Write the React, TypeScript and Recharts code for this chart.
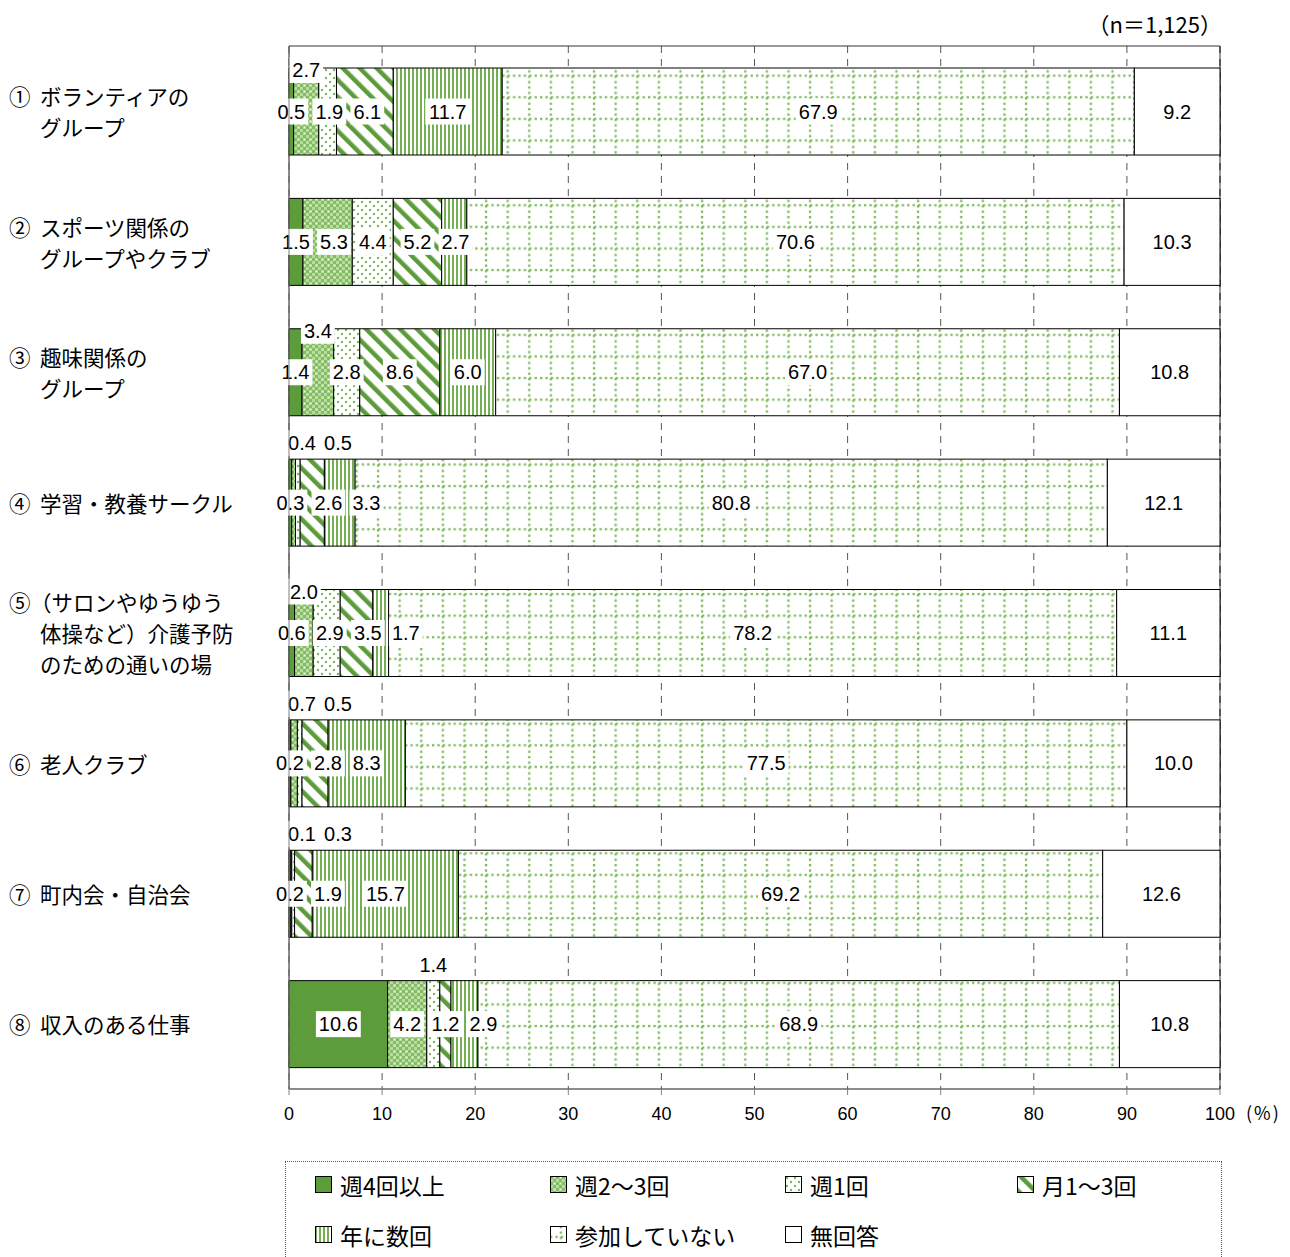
import { Bar, BarChart, CartesianGrid, ReferenceArea, XAxis, YAxis } from "recharts";

// ─── データ ───────────────────────────────────────────────────────────────────
const categories = [
  "①ボランティアの\nグループ",
  "②スポーツ関係の\nグループやクラブ",
  "③趣味関係の\nグループ",
  "④学習・教養サークル",
  "⑤（サロンやゆうゆう\n体操など）介護予防\nのための通いの場",
  "⑥老人クラブ",
  "⑦町内会・自治会",
  "⑧収入のある仕事",
];

const seriesNames = ["週4回以上", "週2～3回", "週1回", "月1～3回", "年に数回", "参加していない", "無回答"];

const weekly4 = [0.5, 1.5, 1.4, 0.3, 0.6, 0.2, 0.2, 10.6];
const weekly2to3 = [2.7, 5.3, 3.4, 0.4, 2.0, 0.7, 0.1, 4.2];
const weekly1 = [1.9, 4.4, 2.8, 0.5, 2.9, 0.5, 0.3, 1.4];
const monthly = [6.1, 5.2, 8.6, 2.6, 3.5, 2.8, 1.9, 1.2];
const yearly = [11.7, 2.7, 6.0, 3.3, 1.7, 8.3, 15.7, 2.9];
const notJoined = [67.9, 70.6, 67.0, 80.8, 78.2, 77.5, 69.2, 68.9];
const noAnswer = [9.2, 10.3, 10.8, 12.1, 11.1, 10.0, 12.6, 10.8];

const seriesValues = [weekly4, weekly2to3, weekly1, monthly, yearly, notJoined, noAnswer];
const xTicks = [0, 10, 20, 30, 40, 50, 60, 70, 80, 90, 100];

// 小さい値のラベルをバーの上に出す（系列番号）
const raisedLabels = [[1], [], [1], [1, 2], [1], [1, 2], [1, 2], [2]];
const raisedOutside = [false, false, false, true, false, true, true, true];

// ─── スタイル ─────────────────────────────────────────────────────────────────
const GREEN = "#5c9c3b";
const FILLS = [
  GREEN,
  "url(#pat-check)",
  "url(#pat-dot)",
  "url(#pat-diag)",
  "url(#pat-vert)",
  "url(#pat-grid)",
  "#ffffff",
];
const NUM_FONT = "'Liberation Sans', Arial, sans-serif";
const JP_FONT = "'Noto Sans CJK JP', 'Noto Sans', sans-serif";

const chartData = categories.map((name, i) => {
  const row: Record<string, string | number> = { name };
  seriesValues.forEach((arr, k) => {
    row[`s${k}`] = arr[i];
  });
  return row;
});

function Patterns() {
  return (
    <defs>
      <pattern id="pat-check" width="6" height="6" patternUnits="userSpaceOnUse">
        <rect width="6" height="6" fill="#b9dba2" />
        <rect x="0" y="0" width="3" height="3" fill="#86bb67" />
        <rect x="3" y="3" width="3" height="3" fill="#86bb67" />
        <rect x="4" y="1" width="1" height="1" fill="#ffffff" />
      </pattern>
      <pattern id="pat-dot" width="8" height="8" patternUnits="userSpaceOnUse">
        <rect width="8" height="8" fill="#ffffff" />
        <circle cx="2" cy="2" r="1.2" fill="#7db65e" />
        <circle cx="6" cy="6" r="1.2" fill="#7db65e" />
      </pattern>
      <pattern
        id="pat-diag"
        width="12"
        height="12"
        patternUnits="userSpaceOnUse"
        patternTransform="rotate(-45)"
      >
        <rect width="12" height="12" fill="#ffffff" />
        <rect x="0" y="0" width="4.5" height="12" fill={GREEN} />
      </pattern>
      <pattern id="pat-vert" width="4" height="4" patternUnits="userSpaceOnUse">
        <rect width="4" height="4" fill="#ffffff" />
        <rect x="0" y="0" width="2" height="4" fill="#74b053" />
      </pattern>
      <pattern id="pat-grid" width="21.6" height="21.6" patternUnits="userSpaceOnUse">
        <rect width="21.6" height="21.6" fill="#ffffff" />
        {[0, 5.4, 10.8, 16.2].map((d) => (
          <g key={d} fill="#7fbb5e">
            <rect x={d} y="9.7" width="2.3" height="2.3" />
            <rect x="9.7" y={d} width="2.3" height="2.3" />
          </g>
        ))}
      </pattern>
    </defs>
  );
}

// ─── Y軸ラベル ────────────────────────────────────────────────────────────────
function CategoryTick({ y, payload }: any) {
  const lines = String(payload.value).split("\n");
  const lh = 31;
  const top = Number(y) - ((lines.length - 1) * lh) / 2;
  return (
    <g fontFamily={JP_FONT} fontSize={21.5} fill="#000">
      {lines.map((line, i) => {
        const ly = top + i * lh;
        if (i === 0) {
          const mark = line.slice(0, 1);
          const rest = line.slice(1);
          const rx = rest.startsWith("（") ? 30 : 40;
          return (
            <g key={i}>
              <text x={9} y={ly} dominantBaseline="central">{mark}</text>
              <text x={rx} y={ly} dominantBaseline="central">{rest}</text>
            </g>
          );
        }
        return (
          <text key={i} x={40} y={ly} dominantBaseline="central">{line}</text>
        );
      })}
    </g>
  );
}

// ─── 数値ラベル（行ごとに重なりを避けて配置） ───────────────────────────────
function RowLabels({ row, x, y, width, height }: { row: number; x: number; y: number; width: number; height: number }) {
  const vals = seriesValues.map((a) => a[row]);
  const last = vals.length - 1;
  const ppu = width / vals[last];
  const total = vals.reduce((s, v) => s + v, 0);
  const x0 = x + width - total * ppu;
  let cum = 0;
  const centers = vals.map((v) => {
    const c = x0 + (cum + v / 2) * ppu;
    cum += v;
    return c;
  });
  const raised = raisedLabels[row];
  let prevMid = -Infinity;
  let prevUp = -Infinity;
  const items = vals.map((v, k) => {
    const t = v.toFixed(1);
    if (raised.includes(k)) {
      const cx = Math.max(centers[k], x0 + 13, prevUp + 36);
      prevUp = cx;
      return { cx, cy: raisedOutside[row] ? y - 16 : y + 2, t };
    }
    const cx = Math.max(centers[k], prevMid + 38);
    prevMid = cx;
    return { cx, cy: y + height / 2, t };
  });
  return (
    <g>
      {items.map((it, i) => {
        const w = (it.t.length - 1) * 11.1 + 5.6 + 6;
        return (
          <g key={i}>
            <rect x={it.cx - w / 2} y={it.cy - 13} width={w} height={26} fill="#ffffff" />
            <text
              x={it.cx}
              y={it.cy}
              textAnchor="middle"
              dominantBaseline="central"
              fontFamily={NUM_FONT}
              fontSize={20}
              fill="#000"
            >
              {it.t}
            </text>
          </g>
        );
      })}
    </g>
  );
}

function NoAnswerShape(props: any) {
  const { x, y, width, height, payload } = props;
  const row = categories.indexOf(payload.name);
  return (
    <g>
      <rect x={x} y={y} width={width} height={height} fill="#ffffff" stroke="#000" strokeWidth={1} />
      <RowLabels row={row} x={Number(x)} y={Number(y)} width={Number(width)} height={Number(height)} />
    </g>
  );
}

// ─── 凡例 ─────────────────────────────────────────────────────────────────────
function LegendBox() {
  const cols = [29, 264, 499, 731];
  return (
    <div
      style={{
        position: "absolute",
        left: 285,
        top: 1161,
        width: 937,
        height: 96,
        border: "1px dotted #555",
        borderBottom: "none",
        boxSizing: "border-box",
      }}
    >
      {seriesNames.map((name, k) => (
        <div
          key={name}
          style={{
            position: "absolute",
            left: cols[k % 4],
            top: Math.floor(k / 4) * 50 + 8,
            height: 30,
            display: "flex",
            alignItems: "center",
            fontFamily: JP_FONT,
            fontSize: 23,
            whiteSpace: "nowrap",
          }}
        >
          <svg width={18} height={18} style={{ display: "block" }}>
            <rect x={0.5} y={0.5} width={16} height={16} fill={FILLS[k]} stroke="#000" />
          </svg>
          <span style={{ marginLeft: 7 }}>{name}</span>
        </div>
      ))}
    </div>
  );
}

export default function App() {
  return (
    <div style={{ position: "absolute", left: 0, top: 0, width: 1290, height: 1257, background: "#fff" }}>
      <div
        style={{
          position: "absolute",
          left: 0,
          top: 9,
          width: 1222,
          textAlign: "right",
          lineHeight: "28px",
          fontFamily: JP_FONT,
          fontSize: 22,
        }}
      >
        （n＝1,125）
      </div>
      <BarChart
        width={1290}
        height={1150}
        data={chartData}
        layout="vertical"
        margin={{ top: 46, right: 70, bottom: 31, left: 0 }}
        barCategoryGap="16.6%"
        style={{ position: "absolute", left: 0, top: 0 }}
      >
        <Patterns />
        <CartesianGrid horizontal={false} strokeDasharray="7 6" stroke="#555" />
        <ReferenceArea x1={0} x2={100} fill="none" stroke="#333" strokeWidth={1} ifOverflow="visible" />
        <XAxis
          type="number"
          domain={[0, 100]}
          ticks={xTicks}
          interval={0}
          height={30}
          axisLine={{ stroke: "#808080" }}
          tickLine={{ stroke: "#808080" }}
          tickSize={6}
          tickMargin={12}
          tick={{ fontSize: 18, fill: "#000", fontFamily: NUM_FONT }}
        />
        <YAxis
          type="category"
          dataKey="name"
          width={289}
          axisLine={{ stroke: "#808080" }}
          tickLine={false}
          tick={<CategoryTick />}
        />
        {seriesNames.map((name, k) => (
          <Bar
            key={name}
            dataKey={`s${k}`}
            name={name}
            stackId="a"
            fill={FILLS[k]}
            stroke="#000"
            strokeWidth={1}
            barSize={87}
            isAnimationActive={false}
            shape={k === seriesNames.length - 1 ? <NoAnswerShape /> : undefined}
          />
        ))}
      </BarChart>
      <div
        style={{
          position: "absolute",
          left: 1246,
          top: 1099,
          width: 40,
          fontFamily: JP_FONT,
          fontSize: 18,
          lineHeight: "26px",
          letterSpacing: 2,
          whiteSpace: "nowrap",
        }}
      >
        (%)
      </div>
      <LegendBox />
    </div>
  );
}
